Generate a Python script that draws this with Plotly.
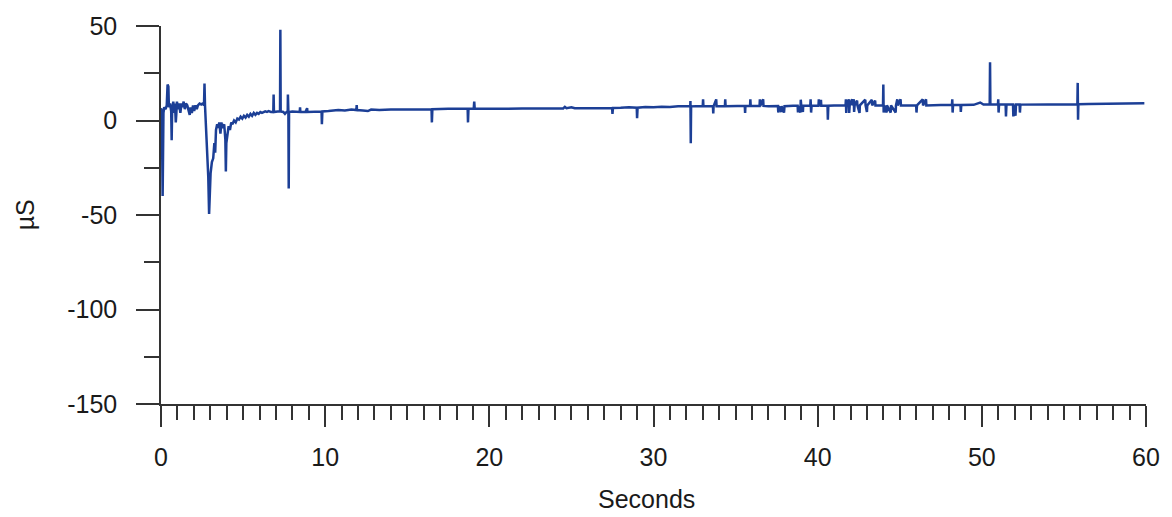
import plotly.graph_objects as go

# Time (s) and signal (µS)
t_early = [0.00, 0.05, 0.10, 0.15, 0.20, 0.28, 0.35, 0.40, 0.45, 0.48, 0.55, 0.62, 0.65, 0.68, 0.75,
           0.80, 0.85, 0.90, 0.93, 0.97, 1.05, 1.10, 1.18, 1.25, 1.30, 1.38, 1.45, 1.52, 1.60, 1.68,
           1.75, 1.80, 1.88, 1.95, 2.02, 2.10, 2.18, 2.25, 2.35, 2.45, 2.55, 2.62, 2.65, 2.68, 2.72,
           2.78, 2.83, 2.88, 2.93, 2.97, 3.02, 3.10, 3.18, 3.25, 3.30, 3.35, 3.42, 3.48, 3.55, 3.62,
           3.68, 3.75, 3.85, 3.92, 3.95, 3.98, 4.05, 4.12, 4.20, 4.28, 4.35, 4.45, 4.55, 4.65, 4.75,
           4.85, 4.95, 5.05, 5.15, 5.25, 5.35, 5.45, 5.55, 5.65, 5.75, 5.85, 5.95, 6.05, 6.15, 6.25,
           6.35, 6.45, 6.55, 6.70, 6.84, 6.86, 6.88, 7.10, 7.25, 7.27, 7.29, 7.45, 7.55, 7.65, 7.72,
           7.73, 7.76, 7.78, 7.80, 8.00]
v_early = [6.5, 5.0, -40.0, 4.0, 7.0, 6.0, 8.0, 19.0, 18.0, 7.0, 9.0, 5.0, -10.5, 6.0, 10.0,
           4.0, 9.0, -1.0, 3.0, 10.0, 6.0, 9.0, 4.0, 9.0, 7.0, 10.0, 6.0, 9.0, 8.0, 5.0,
           3.0, 7.0, 4.0, 8.0, 5.0, 8.0, 6.0, 8.0, 9.0, 8.5, 9.0, 8.0, 19.5, 8.0, 0.0,
           -6.0, -15.0, -30.0, -49.5, -40.0, -28.0, -22.0, -20.0, -12.0, -17.0, -5.0, -2.0, -4.0, -1.0, -7.0,
           -1.0, -4.0, -2.0, -10.0, -27.0, -12.0, -6.0, -3.0, -5.0, -1.0, -2.0, 0.0, -1.0, 1.0, 0.5,
           2.0, 1.0, 2.5, 1.5, 3.0, 2.0, 3.5, 2.5, 4.0, 3.0, 4.0, 3.5, 4.5, 4.0, 4.5,
           4.8, 4.5, 5.0, 4.5, 4.5, 13.8, 4.5, 4.8, 4.8, 48.0, 4.8, 4.5, 3.5, 4.5, 4.5,
           13.8, 4.5, -36.0, 4.5, 4.8]

t_mid = [8.20, 8.45, 8.47, 8.49, 8.80, 8.90, 8.92, 9.30, 9.78, 9.80, 9.83, 10.2, 10.6, 10.8, 11.2,
         11.6, 11.9, 11.92, 11.94, 12.3, 12.6, 12.8, 13.3, 14.0, 15.0, 16.0, 16.48, 16.50, 16.53, 17.5,
         18.68, 18.70, 18.73, 19.05, 19.08, 19.11, 20.0, 22.0, 24.5, 24.6, 24.7, 25.0, 25.2, 26.0, 27.0,
         27.48, 27.50, 27.53, 28.0, 28.5, 28.98, 29.00, 29.03, 29.5, 30.0, 30.5, 31.0, 31.5, 32.24, 32.25,
         32.27, 32.29, 32.6]
v_mid = [4.5, 4.5, 7.0, 4.5, 4.5, 6.5, 4.5, 4.8, 4.8, -2.0, 4.8, 5.0, 5.3, 5.5, 5.3,
         5.8, 5.5, 8.2, 5.5, 5.3, 5.0, 5.8, 5.5, 5.8, 6.0, 6.0, 6.0, -1.0, 6.0, 6.2,
         6.2, -1.0, 6.2, 6.2, 10.0, 6.2, 6.3, 6.3, 6.4, 7.2, 6.5, 7.0, 6.5, 6.5, 6.6,
         6.6, 3.5, 6.6, 6.7, 7.0, 6.8, 1.2, 6.8, 7.2, 7.0, 7.3, 7.2, 7.5, 7.5, 10.3,
         -12.0, 7.5, 7.6]

t_late = [33.00, 33.02, 33.04, 33.62, 33.64, 33.66, 33.82, 33.84, 34.35, 34.37, 34.39, 35.10, 35.56, 35.58, 35.60,
          35.88, 35.90, 35.92, 36.46, 36.48, 36.50, 36.68, 36.70, 37.00, 37.58, 37.60, 37.63, 37.78, 37.80, 37.95,
          37.98, 38.50, 38.78, 38.80, 38.82, 38.95, 38.97, 39.00, 39.10, 39.12, 39.55, 39.57, 39.60, 39.63, 40.05,
          40.07, 40.10, 40.20, 40.22, 40.60, 40.62, 40.65, 41.00, 41.70, 41.72, 41.74, 41.76, 41.90, 41.92, 41.95,
          42.10, 42.12, 42.20, 42.22, 42.25, 42.40, 42.42, 42.55, 42.57, 42.90, 42.92, 43.00, 43.02, 43.30, 43.32,
          43.50, 43.52, 43.98, 44.00, 44.02, 44.05, 44.20, 44.22, 44.45, 44.47, 44.75, 44.77, 44.85, 44.87, 45.05,
          45.07, 45.50, 46.00, 46.02, 46.05, 46.40, 46.42, 46.60, 46.62, 47.50, 48.18, 48.20, 48.22, 48.25, 48.70,
          48.72, 48.75, 49.50, 49.90, 50.10, 50.48, 50.50, 50.52, 50.98, 51.00, 51.02, 51.05, 51.45, 51.47, 51.50,
          51.90, 51.92, 51.95, 52.05, 52.08, 52.30, 52.32, 52.35, 53.0, 54.0, 55.0, 55.82, 55.84, 55.86, 55.88,
          56.5, 57.5, 58.5, 59.5, 59.9]
v_late = [7.6, 11.2, 7.6, 7.6, 3.8, 7.6, 11.2, 7.6, 7.6, 11.2, 7.6, 7.7, 7.7, 4.0, 7.7,
          7.7, 11.2, 7.7, 7.7, 11.2, 7.7, 11.2, 7.7, 7.5, 7.6, 4.2, 7.6, 4.5, 7.6, 4.2,
          7.6, 7.8, 7.8, 4.2, 7.8, 4.2, 11.0, 7.8, 4.5, 7.8, 7.8, 11.2, 4.2, 7.8, 7.8,
          11.2, 7.8, 11.0, 7.8, 7.8, 0.4, 7.8, 8.0, 8.0, 11.2, 4.0, 8.0, 11.2, 4.0, 8.0,
          11.2, 8.0, 11.2, 4.5, 8.0, 10.5, 8.0, 4.0, 8.0, 11.0, 8.0, 4.5, 8.0, 11.0, 8.0,
          10.5, 8.0, 8.0, 19.0, 4.2, 8.0, 4.2, 8.0, 4.2, 8.0, 4.2, 8.0, 11.2, 8.0, 11.2,
          8.0, 8.0, 8.0, 4.2, 8.0, 11.2, 8.0, 11.2, 8.0, 8.2, 8.2, 11.2, 4.2, 8.2, 8.2,
          4.5, 8.2, 8.3, 9.5, 8.4, 8.4, 30.8, 8.4, 8.4, 11.2, 4.2, 8.4, 8.4, 2.1, 8.4,
          8.4, 2.1, 8.4, 2.5, 8.4, 8.4, 4.2, 8.4, 8.5, 8.5, 8.6, 8.6, 19.9, 0.4, 8.6,
          8.7, 8.8, 9.0, 9.1, 9.1]

seconds = t_early + t_mid + t_late
micro_s = v_early + v_mid + v_late

x_ticks = [0, 10, 20, 30, 40, 50, 60]
y_ticks = [50, 0, -50, -100, -150]

font_family = "Liberation Sans, Arial, sans-serif"
ink = "#1a1a1a"

fig = go.Figure()
fig.add_trace(go.Scatter(
    x=seconds, y=micro_s, mode="lines",
    line=dict(color="#1c3f96", width=2.5),
    hoverinfo="skip", showlegend=False,
))

fig.update_layout(
    width=1172, height=517,
    margin=dict(l=161, r=23, t=21, b=113),
    paper_bgcolor="white", plot_bgcolor="white",
    font=dict(family=font_family, size=25, color=ink),
    showlegend=False,
)

fig.update_xaxes(
    range=[0, 60], tickvals=x_ticks, ticktext=[str(v) for v in x_ticks],
    showgrid=False, zeroline=False,
    showline=True, linecolor="#333", linewidth=1.5,
    ticks="outside", ticklen=21, tickwidth=1.5, tickcolor="#333",
    minor=dict(dtick=1, tick0=0, ticks="outside", ticklen=14, tickwidth=1.5, tickcolor="#333", showgrid=False),
    tickfont=dict(size=25, color=ink),
    ticklabelstandoff=9,
)
fig.update_yaxes(
    range=[-150, 50], tickvals=y_ticks, ticktext=[str(v) for v in y_ticks],
    showgrid=False, zeroline=False,
    showline=True, linecolor="#333", linewidth=1.5,
    ticks="outside", ticklen=23, tickwidth=1.5, tickcolor="#333",
    minor=dict(dtick=25, tick0=0, ticks="outside", ticklen=15, tickwidth=1.5, tickcolor="#333", showgrid=False),
    tickfont=dict(size=25, color=ink),
    ticklabelstandoff=14,
)

fig.add_annotation(text="µS", xref="paper", yref="y", x=-0.1377, y=-50,
                   textangle=-90, showarrow=False, font=dict(size=25, color=ink),
                   xanchor="center", yanchor="middle")
fig.add_annotation(text="Seconds", xref="x", yref="paper", x=29.6, y=-0.2520,
                   showarrow=False, font=dict(size=25, color=ink),
                   xanchor="center", yanchor="middle")

fig.write_html("out.html", config={"displayModeBar": False},
               post_script="document.body.style.margin='0';document.body.style.overflow='hidden';")
